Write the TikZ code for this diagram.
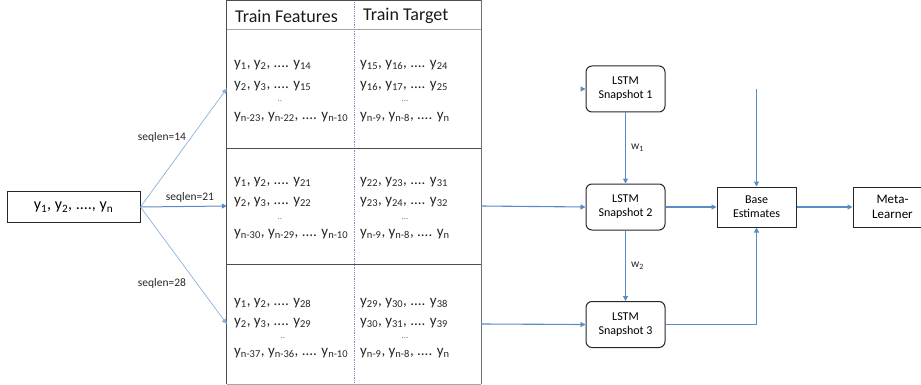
\documentclass[tikz,border=0pt]{standalone}
\usepackage{fontspec}
\setmainfont{Carlito}
\usetikzlibrary{arrows.meta,calc}
\definecolor{arrblue}{HTML}{5B8BC5}
\definecolor{fanblue}{HTML}{8DB0DA}
\definecolor{tblgray}{HTML}{4D4D4D}
\definecolor{hdrgray}{HTML}{A6A6A6}
\definecolor{divblue}{HTML}{7F97B5}
\newcommand\ysub[1]{y\textsubscript{#1}}
\tikzset{
  box/.style={draw=black!85, line width=1pt, minimum width=79pt, minimum height=40pt,
    align=center, inner sep=0pt, font=\fontsize{12}{14}\selectfont},
  lstm/.style={box, rounded corners=6pt, minimum height=46pt},
  sec/.style={draw=none, minimum width=254pt, inner sep=0pt},
  tbl/.style={draw=tblgray, line width=1pt},
  hdrline/.style={draw=hdrgray, line width=0.8pt},
  divider/.style={draw=divblue, line width=0.8pt, densely dotted},
  arr/.style={draw=arrblue, line width=1.1pt, -{Triangle[length=5pt,width=5pt]}},
  fan/.style={draw=fanblue, line width=0.7pt, -{Triangle[length=5pt,width=5pt]}},
  cell/.style={anchor=west, inner sep=0pt, font=\fontsize{15}{17}\selectfont, text=black!85},
  dots/.style={inner sep=0pt, font=\fontsize{9}{10}\selectfont, text=black!55},
  hdr/.style={inner sep=0pt, font=\fontsize{18}{20}\selectfont, text=black!90},
  lbl/.style={inner sep=0pt, font=\fontsize{11.5}{13}\selectfont, text=black!85},
}
\begin{document}
\begin{tikzpicture}[x=1pt,y=-1pt]
\useasboundingbox (0,0) rectangle (921,385);
% input
\node[box, minimum width=133pt, minimum height=30.5pt, font=\fontsize{16}{18}\selectfont] (inp) at (73.5,207) {\ysub{1}, \ysub{2}, ...., \ysub{n}};
% table sections
\node[sec, minimum height=29pt] (hdr) at (354,15) {};
\node[sec, minimum height=119pt] (sec1) at (354,88.5) {};
\node[sec, minimum height=116pt] (sec2) at (354,206) {};
\node[sec, minimum height=120pt] (sec3) at (354,324) {};
\draw[divider] (hdr.north) -- (sec3.south);
\draw[tbl] (hdr.north west) -- (hdr.north east);
\draw[tbl] (hdr.north west) -- (sec3.south west);
\draw[tbl, draw=tblgray!80] (hdr.north east) -- (sec3.south east);
\draw[hdrline] (hdr.south west) -- (hdr.south east);
\draw[tbl] (sec1.south west) -- (sec1.south east);
\draw[tbl] (sec2.south west) -- (sec2.south east);
\draw[hdrline] (sec3.south west) -- (sec3.south east);
% header
\node[hdr, anchor=west] (hf) at (235,16) {Train Features};
\node[hdr, anchor=west] (ht) at (363,16) {Train Target};
% section 1
\node[cell] (a1) at (234,65) {\ysub{1}, \ysub{2}, .... \ysub{14}};
\node[cell] (a2) at (234,86) {\ysub{2}, \ysub{3}, .... \ysub{15}};
\node[dots] (a3) at (280,101) {..};
\node[cell] (a4) at (234,117) {\ysub{n-23}, \ysub{n-22}, .... \ysub{n-10}};
\node[cell] (b1) at (360,65) {\ysub{15}, \ysub{16}, .... \ysub{24}};
\node[cell] (b2) at (360,86) {\ysub{16}, \ysub{17}, .... \ysub{25}};
\node[dots] (b3) at (405,101) {...};
\node[cell] (b4) at (360,117) {\ysub{n-9}, \ysub{n-8}, .... \ysub{n}};
% section 2
\node[cell] (c1) at (234,182) {\ysub{1}, \ysub{2}, .... \ysub{21}};
\node[cell] (c2) at (234,202) {\ysub{2}, \ysub{3}, .... \ysub{22}};
\node[dots] (c3) at (280,219) {..};
\node[cell] (c4) at (234,234) {\ysub{n-30}, \ysub{n-29}, .... \ysub{n-10}};
\node[cell] (d1) at (360,182) {\ysub{22}, \ysub{23}, .... \ysub{31}};
\node[cell] (d2) at (360,202) {\ysub{23}, \ysub{24}, .... \ysub{32}};
\node[dots] (d3) at (405,219) {...};
\node[cell] (d4) at (360,234) {\ysub{n-9}, \ysub{n-8}, .... \ysub{n}};
% section 3
\node[cell] (e1) at (234,303) {\ysub{1}, \ysub{2}, .... \ysub{28}};
\node[cell] (e2) at (234,323) {\ysub{2}, \ysub{3}, .... \ysub{29}};
\node[dots] (e3) at (283,338) {..};
\node[cell] (e4) at (234,353) {\ysub{n-37}, \ysub{n-36}, .... \ysub{n-10}};
\node[cell] (f1) at (360,303) {\ysub{29}, \ysub{30}, .... \ysub{38}};
\node[cell] (f2) at (360,323) {\ysub{30}, \ysub{31}, .... \ysub{39}};
\node[dots] (f3) at (405,338) {...};
\node[cell] (f4) at (360,353) {\ysub{n-9}, \ysub{n-8}, .... \ysub{n}};
% fan
\draw[fan] (inp.east) -- (sec1.west);
\draw[arr, line width=1pt] (inp.east) -- (sec2.west);
\draw[fan] (inp.east) -- (sec3.west);
\node[lbl] (q14) at (162,137) {seqlen=14};
\node[lbl] (q21) at (190,197) {seqlen=21};
\node[lbl] (q28) at (162,283) {seqlen=28};
% LSTM
\node[lstm] (s1) at (625.5,89) {LSTM\\Snapshot 1};
\node[lstm] (s2) at (625.5,207) {LSTM\\Snapshot 2};
\node[lstm] (s3) at (625.5,324.5) {LSTM\\Snapshot 3};
\node[box] (base) at (756.5,207) {Base\\Estimates};
\node[box, font=\fontsize{13}{15}\selectfont] (meta) at (892.5,207) {Meta-\\Learner};
\coordinate (s1in) at ($(s1.west)+(-5,0)$);
\coordinate (btop) at (756.5,89);
\draw[arr] (s1in) -- (s1.west);
\draw[arr] (s1.south) -- node[lbl, right=5pt] (w1) {w\textsubscript{1}} (s2.north);
\draw[arr] (s2.south) -- node[lbl, right=5pt] (w2) {w\textsubscript{2}} (s3.north);
\draw[arr] (sec2.east) -- (s2.west);
\draw[arr] (sec3.east) -- (s3.west);
\draw[arr] (s2.east) -- (base.west);
\draw[arr] (s3.east) -| (base.south);
\draw[arr] (btop) -- (base.north);
\draw[arr] (base.east) -- (meta.west);
\end{tikzpicture}
\end{document}
